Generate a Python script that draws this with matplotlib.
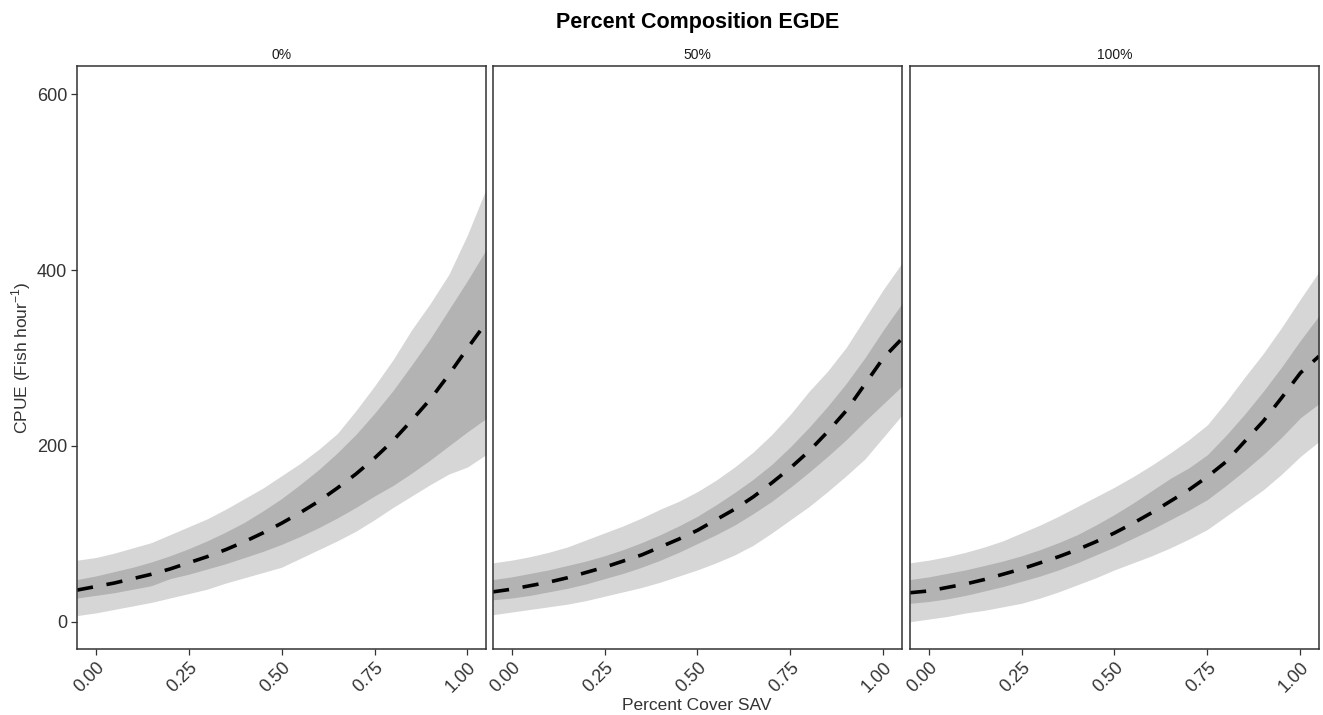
import numpy as np
import matplotlib
matplotlib.use("Agg")
import matplotlib.pyplot as plt

plt.rcParams["font.family"] = ["Liberation Sans", "DejaVu Sans"]
plt.rcParams["mathtext.fontset"] = "custom"
plt.rcParams["mathtext.rm"] = "Liberation Sans"

# x grid the values were read at
x = [-0.05, 0.0, 0.05, 0.1, 0.15, 0.2, 0.25, 0.3, 0.35, 0.4, 0.45, 0.5,
     0.55, 0.6, 0.65, 0.7, 0.75, 0.8, 0.85, 0.9, 0.95, 1.0, 1.05]

panels = ["0%", "50%", "100%"]

# 0% EGDE
mean_0 = [36, 40, 44, 49, 54, 60, 67, 74, 82, 91, 101, 112,
          124, 137, 152, 168, 186, 206, 229, 253, 281, 311, 340]
in_hi_0 = [48, 52, 57, 62, 68, 75, 83, 92, 102, 113, 126, 140,
           156, 173, 192, 213, 237, 263, 292, 322, 355, 388, 423]
in_lo_0 = [27, 30, 33, 37, 41, 49, 54, 60, 66, 73, 80, 88,
           97, 107, 118, 130, 143, 155, 169, 184, 200, 216, 231]
out_hi_0 = [70, 73, 78, 84, 90, 99, 108, 117, 128, 140, 152, 166,
            180, 196, 214, 240, 268, 298, 332, 362, 395, 440, 492]
out_lo_0 = [7, 10, 14, 18, 22, 27, 32, 37, 44, 50, 56, 62,
            72, 82, 92, 103, 116, 130, 143, 156, 168, 176, 190]

# 50% EGDE
mean_50 = [34, 37, 41, 45, 50, 56, 62, 69, 76, 85, 94, 104,
           116, 128, 142, 158, 175, 194, 216, 240, 270, 300, 322]
in_hi_50 = [48, 51, 55, 59, 64, 69, 75, 82, 90, 99, 109, 120,
            133, 147, 162, 179, 199, 221, 245, 271, 300, 332, 362]
in_lo_50 = [25, 27, 30, 34, 38, 43, 49, 55, 62, 70, 79, 89,
            99, 110, 123, 137, 153, 170, 188, 207, 228, 248, 268]
out_hi_50 = [67, 70, 74, 79, 85, 93, 101, 109, 118, 128, 137, 148,
             161, 176, 193, 213, 236, 262, 285, 312, 345, 378, 408]
out_lo_50 = [8, 11, 14, 17, 20, 24, 29, 34, 39, 45, 52, 59,
             67, 76, 87, 101, 116, 131, 148, 166, 185, 210, 235]

# 100% EGDE
mean_100 = [33, 35, 39, 43, 48, 54, 60, 67, 74, 82, 91, 101,
            112, 124, 137, 150, 165, 182, 205, 228, 255, 283, 302]
in_hi_100 = [48, 51, 55, 59, 64, 69, 75, 82, 90, 99, 110, 122,
             135, 149, 163, 175, 190, 212, 236, 262, 290, 320, 348]
in_lo_100 = [21, 23, 26, 30, 35, 40, 46, 52, 59, 67, 76, 85,
             95, 105, 116, 127, 139, 155, 172, 190, 210, 232, 248]
out_hi_100 = [67, 70, 74, 79, 85, 92, 101, 110, 120, 131, 142, 153,
              165, 178, 192, 207, 224, 250, 278, 305, 335, 367, 398]
out_lo_100 = [0, 3, 6, 10, 13, 17, 21, 27, 34, 42, 50, 59,
              67, 75, 84, 94, 105, 120, 135, 150, 168, 188, 205]

series = [
    (mean_0, in_lo_0, in_hi_0, out_lo_0, out_hi_0),
    (mean_50, in_lo_50, in_hi_50, out_lo_50, out_hi_50),
    (mean_100, in_lo_100, in_hi_100, out_lo_100, out_hi_100),
]

xticks = [0.0, 0.25, 0.5, 0.75, 1.0]
yticks = [0, 200, 400, 600]

txt = "#333333"
fig = plt.figure(figsize=(13.23, 7.15), dpi=100)

lefts = [0.0582, 0.3726, 0.6878]
w = 0.3092
bottom, top = 0.0923, 0.9077

for i, (name, (m, il, ih, ol, oh)) in enumerate(zip(panels, series)):
    ax = fig.add_axes([lefts[i], bottom, w, top - bottom])
    ax.fill_between(x, ol, oh, color="#d6d6d6", lw=0)
    ax.fill_between(x, il, ih, color="#b3b3b3", lw=0)
    ax.plot(x, m, color="black", lw=2.6, ls=(0, (4.5, 3.8)))
    ax.set_xlim(-0.05, 1.05)
    ax.set_ylim(-31, 632)
    ax.set_xticks(xticks)
    ax.set_xticklabels(["%.2f" % t for t in xticks], rotation=45,
                       ha="right", rotation_mode="anchor", fontsize=13,
                       color=txt)
    ax.set_yticks(yticks)
    if i == 0:
        ax.set_yticklabels([str(t) for t in yticks], fontsize=13, color=txt)
    else:
        ax.tick_params(axis="y", left=False, labelleft=False)
    ax.tick_params(length=4, width=0.9, color="#333333", pad=3)
    for s in ax.spines.values():
        s.set_color("#333333")
        s.set_linewidth(1.1)
    ax.set_title(name, fontsize=10, color="#1a1a1a", pad=5)

fig.text(0.527, 0.968, "Percent Composition EGDE", ha="center", va="center",
         fontsize=15.5, fontweight="bold")
fig.text(0.527, 0.013, "Percent Cover SAV", ha="center", va="center",
         fontsize=12.5, color="#333333")
fig.text(0.016, 0.5, "CPUE (Fish hour$^{-1}$)", ha="center", va="center",
         rotation=90, fontsize=12.5, color="#333333")

fig.savefig("out.png", dpi=100)
